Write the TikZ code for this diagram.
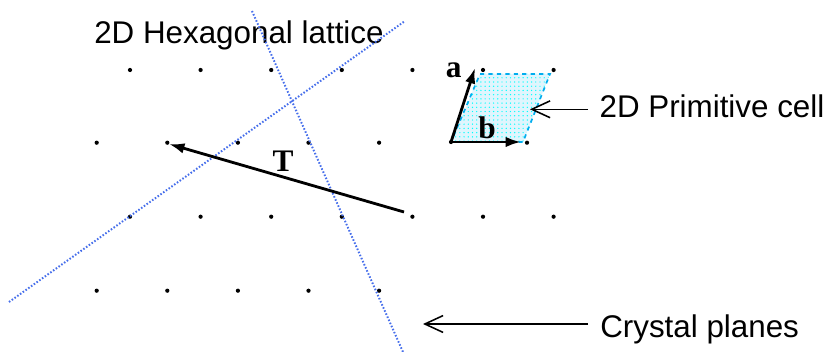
\documentclass[tikz,border=0pt]{standalone}
\usepackage{fontspec}
\setmainfont{Liberation Sans}
\newfontfamily\vecfont{Liberation Serif}
\usetikzlibrary{arrows.meta,patterns}
\definecolor{planeblue}{RGB}{70,110,235}

\begin{document}
\begin{tikzpicture}[
  x=0.025cm, y=-0.025cm,
  plane/.style={planeblue,line width=1.4pt,dash pattern=on 1.1pt off 1.3pt},
  vec/.style={-{Latex[length=11pt,width=7.5pt]},line width=2pt},
  pointer/.style={-{Straight Barb[length=13pt,width=12pt]},line width=1.1pt},
  lbl/.style={inner sep=0,anchor=base west,font=\fontsize{22.3}{26}\selectfont},
  sym/.style={inner sep=0,font=\fontsize{22.3}{26}\selectfont\vecfont\bfseries}
]
\useasboundingbox (0,0) rectangle (832,352);
% Texts
\node[lbl] (hex) at (94,43.3) {2D Hexagonal lattice};
\node[lbl] (prim) at (599.3,117.3) {2D Primitive cell};
\node[lbl] (cryst) at (600,337.5) {Crystal planes};
% Primitive cell
\coordinate (o) at (451,142);
\coordinate (cb) at (523,142);
\coordinate (ct) at (550,74);
\coordinate (ca) at (480,74);
\fill[cyan!12] (o) -- (cb) -- (ct) -- (ca) -- cycle;
\fill[pattern=dots,pattern color=cyan] (o) -- (cb) -- (ct) -- (ca) -- cycle;
\draw[cyan,dashed,line width=1.2pt] (o) -- (cb) -- (ct) -- (ca) -- cycle;
% Lattice sites
\foreach \i in {0,...,6} {
  \fill (130+70.6*\i,70) circle (1.5pt);
  \fill (130+70.6*\i,216.7) circle (1.5pt);
}
\foreach \i in {0,...,4} {
  \fill (96.7+70.6*\i,142.7) circle (1.5pt);
  \fill (96.7+70.6*\i,290.7) circle (1.5pt);
}
\fill (o) circle (1.5pt);
\fill (527,142.7) circle (1.5pt);
% Crystal planes
\coordinate (p1s) at (9,302);
\coordinate (p1e) at (405,21);
\coordinate (p2s) at (252,11);
\coordinate (p2e) at (403,352);
\draw[plane] (p1s) -- (p1e);
\draw[plane] (p2s) -- (p2e);
% Vectors
\coordinate (atip) at (475,68);
\coordinate (btip) at (521,142);
\draw[vec] (o) -- (atip);
\draw[vec] (o) -- (btip);
\coordinate (tfrom) at (404,212);
\coordinate (tto) at (169,144);
\draw[vec] (tfrom) -- (tto);
\node[sym] (alab) at (453.7,70.7) {a};
\node[sym] (blab) at (487,127.3) {b};
\node[sym] (tlab) at (283,161.7) {T};
% Pointers
\coordinate (primtail) at (588,109.3);
\coordinate (cellpt) at (530,109.3);
\draw[pointer] (primtail) -- (cellpt);
\coordinate (crysttail) at (588,324);
\coordinate (planept) at (423,324);
\draw[pointer] (crysttail) -- (planept);
\end{tikzpicture}
\end{document}
